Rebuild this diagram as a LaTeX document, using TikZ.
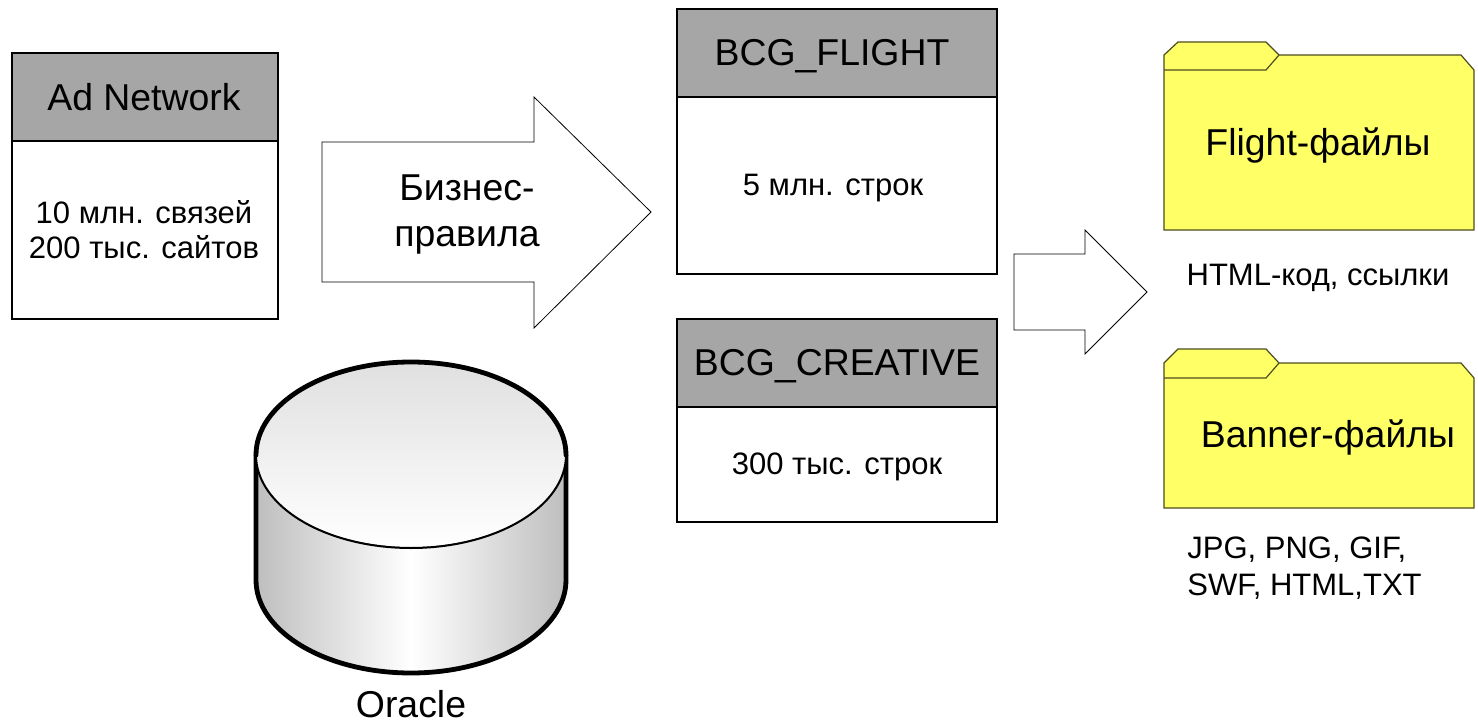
\documentclass[tikz,border=0pt]{standalone}
\usepackage{fontspec}
\setmainfont{Liberation Sans}
\usetikzlibrary{positioning}
\definecolor{headgray}{RGB}{166, 166, 166}
\definecolor{foldercolor}{RGB}{255, 255, 102}
\definecolor{sidegray}{RGB}{190, 190, 190}
\definecolor{topgray}{RGB}{224, 224, 224}
\tikzset{
  every node/.append style={align=center},
  bigtext/.style={font=\fontsize{18.7}{23}\selectfont, inner sep=0pt},
  smalltext/.style={font=\fontsize{15.5}{17.5}\selectfont, inner sep=0pt},
  box/.style={draw, line width=0.6pt},
  arrowshape/.style={draw, line width=0.4pt, fill=white},
  folder/.style={draw=black!70!foldercolor, fill=foldercolor, line width=0.6pt},
}
\begin{document}
\begin{tikzpicture}[x=0.5pt, y=-0.5pt]
    \useasboundingbox (0, 0) rectangle (1478, 722);

    % Ad Network
    \draw[box, fill=headgray] (12, 53) rectangle (278, 141);
    \draw[box] (12, 141) rectangle (278, 319);
    \node[bigtext] (adnet) at (144, 97) {Ad Network};
    \node[smalltext] (adnetinfo) at (144, 230) {10 млн. связей\\200 тыс. сайтов};

    % Business rules arrow
    \draw[arrowshape] (322, 142) -- (534, 142) -- (534, 97) -- (651, 212) -- (534, 328) -- (534, 282) -- (322, 282) -- cycle;
    \node[bigtext] (rules) at (467, 215) {Бизнес-\\правила};

    % BCG_FLIGHT
    \draw[box, fill=headgray] (677, 9) rectangle (997, 97);
    \draw[box] (677, 97) rectangle (997, 274);
    \node[bigtext] (flight) at (832, 56) {BCG\_FLIGHT};
    \node[smalltext] (flightinfo) at (833, 188) {5 млн. строк};

    % BCG_CREATIVE
    \draw[box, fill=headgray] (677, 319) rectangle (997, 407);
    \draw[box] (677, 407) rectangle (997, 522);
    \node[bigtext] (creative) at (837, 366) {BCG\_CREATIVE};
    \node[smalltext] (creativeinfo) at (837, 467) {300 тыс. строк};

    % Small arrow
    \draw[arrowshape] (1014, 254) -- (1085, 254) -- (1085, 230) -- (1147, 292) -- (1085, 354) -- (1085, 330) -- (1014, 330) -- cycle;

    % Flight folder
    \draw[folder] (1164, 55) -- (1178, 42) -- (1266, 42) -- (1279, 55) -- (1461, 55) -- (1474, 70) -- (1474, 230) -- (1164, 230) -- cycle;
    \draw[folder, fill=none] (1164, 70) -- (1266, 70) -- (1279, 55);
    \node[bigtext] (flightfiles) at (1318, 146) {Flight-файлы};
    \node[smalltext] (flightnote) at (1318, 278) {HTML-код, ссылки};

    % Banner folder
    \draw[folder] (1164, 363) -- (1178, 349) -- (1266, 349) -- (1279, 363) -- (1461, 363) -- (1474, 378) -- (1474, 508) -- (1164, 508) -- cycle;
    \draw[folder, fill=none] (1164, 378) -- (1266, 378) -- (1279, 363);
    \node[bigtext] (bannerfiles) at (1328, 437) {Banner-файлы};
    \node[smalltext, align=left, anchor=west] (bannernote) at (1187, 568) {JPG, PNG, GIF,\\[1pt]SWF, HTML,TXT};

    % Oracle cylinder
    \draw[line width=2.4pt, left color=sidegray, right color=sidegray, middle color=white]
        (256, 455) -- (256, 580) arc[start angle=180, end angle=360, x radius=155, y radius=-93] -- (566, 455);
    \fill[top color=topgray, bottom color=white] (411, 455) ellipse[x radius=155, y radius=92];
    \draw[line width=1pt] (256, 455) arc[start angle=180, end angle=360, x radius=155, y radius=-93];
    \draw[line width=2.4pt, line cap=round] (256, 455) arc[start angle=180, end angle=0, x radius=155, y radius=-93];
    \node[bigtext] (oracle) at (411, 704) {Oracle};
\end{tikzpicture}
\end{document}
